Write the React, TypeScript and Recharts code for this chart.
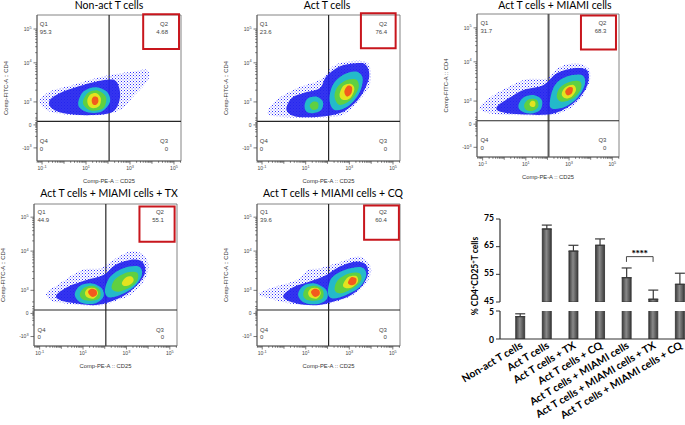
import React from 'react';
import {
  ScatterChart,
  Scatter,
  XAxis,
  YAxis,
  ReferenceLine,
  ReferenceArea,
  ReferenceDot,
  BarChart,
  Bar,
  ErrorBar,
} from 'recharts';

// ---------- flow plots ----------
// x = log10(CD25), y = display units of the CD4 axis (-1 = -10^3, 0 = 0, 1 = 10^3, 2.7 = 10^4, 4.17 = 10^5)
// each array is one density contour

const nonActHalo = [[-1.12, 1.01], [-0.64, 1.45], [0.27, 1.7], [1.18, 1.96], [2.09, 2.17], [3.15, 2.32], [3.76, 2.39], [3.83, 1.96], [3.15, 1.23], [2.55, 0.65], [1.64, 0.43], [0.42, 0.43], [-0.64, 0.58]];
const nonActDense = [[-0.64, 1.09], [-0.03, 1.45], [0.88, 1.74], [1.94, 1.96], [2.39, 1.88], [2.55, 1.23], [2.24, 0.58], [1.33, 0.43], [0.12, 0.48], [-0.56, 0.72]];
const nonActCyan = [[0.65, 1.01], [0.88, 1.45], [1.41, 1.64], [1.94, 1.45], [2.09, 1.01], [1.71, 0.58], [1.11, 0.54], [0.73, 0.72]];
const nonActGreen = [[0.88, 1.09], [1.11, 1.41], [1.56, 1.49], [1.91, 1.2], [1.79, 0.72], [1.26, 0.62], [0.91, 0.83]];
const nonActYellow = [[1.06, 1.09], [1.21, 1.33], [1.48, 1.38], [1.67, 1.16], [1.61, 0.83], [1.33, 0.72], [1.12, 0.83]];
const nonActRed = [[1.26, 1.09], [1.36, 1.23], [1.52, 1.2], [1.56, 1.01], [1.44, 0.87], [1.3, 0.91]];

const actHalo = [[-0.71, 0.65], [-0.33, 1.09], [0.58, 1.59], [1.64, 1.96], [2.24, 2.54], [2.85, 2.75], [3.76, 2.75], [3.98, 2.32], [3.91, 1.67], [3.45, 1.09], [2.7, 0.43], [1.64, 0.33], [0.12, 0.33], [-0.64, 0.43]];
const actDense = [[0.12, 0.65], [0.35, 1.16], [0.88, 1.38], [1.64, 1.59], [1.94, 2.1], [2.55, 2.54], [3.3, 2.68], [3.76, 2.61], [3.91, 2.1], [3.61, 1.38], [3.15, 0.87], [2.55, 0.51], [1.64, 0.36], [0.58, 0.36]];
const actLeftCyan = [[0.95, 0.87], [1.11, 1.16], [1.48, 1.23], [1.79, 1.01], [1.71, 0.65], [1.33, 0.51], [1.03, 0.58]];
const actLeftGreen = [[1.18, 0.83], [1.33, 1.01], [1.56, 0.97], [1.56, 0.72], [1.33, 0.65]];
const actRightCyan = [[2.09, 1.09], [2.24, 1.74], [2.7, 2.17], [3.3, 2.32], [3.61, 2.03], [3.45, 1.38], [2.92, 0.8], [2.32, 0.65]];
const actRightGreen = [[2.32, 1.23], [2.47, 1.67], [2.92, 1.96], [3.33, 1.96], [3.42, 1.59], [3.08, 1.09], [2.55, 0.87]];
const actRightYellow = [[2.55, 1.3], [2.73, 1.7], [3.08, 1.78], [3.23, 1.55], [3.03, 1.16], [2.7, 1.09]];
const actRightRed = [[2.77, 1.45], [2.92, 1.7], [3.12, 1.64], [3.08, 1.35], [2.88, 1.23]];

const miamiHalo = [[-1.14, 0.72], [-0.49, 1.26], [0.89, 1.91], [1.97, 1.99], [2.58, 2.49], [3.35, 2.64], [3.89, 2.42], [3.97, 1.91], [3.66, 1.26], [3.05, 0.68], [2.12, 0.39], [0.58, 0.39], [-0.65, 0.46]];
const miamiDense = [[-0.34, 0.75], [0.2, 1.12], [0.89, 1.48], [1.82, 1.7], [2.43, 2.2], [3.2, 2.42], [3.82, 2.35], [3.89, 1.84], [3.58, 1.26], [2.97, 0.75], [2.12, 0.43], [0.74, 0.43], [-0.18, 0.54]];
const miamiLeftCyan = [[0.66, 0.83], [0.89, 1.16], [1.35, 1.26], [1.74, 1.04], [1.66, 0.61], [1.2, 0.46], [0.77, 0.58]];
const miamiLeftGreen = [[0.92, 0.83], [1.12, 1.07], [1.48, 1.07], [1.58, 0.78], [1.32, 0.58], [1.02, 0.61]];
const miamiLeftYellow = [[1.17, 0.87], [1.28, 1.01], [1.43, 0.96], [1.42, 0.78], [1.25, 0.75]];
const miamiRightCyan = [[2.12, 1.04], [2.35, 1.7], [2.89, 2.06], [3.58, 2.13], [3.74, 1.77], [3.43, 1.19], [2.82, 0.75], [2.2, 0.68]];
const miamiRightGreen = [[2.43, 1.19], [2.58, 1.59], [3.05, 1.84], [3.51, 1.84], [3.54, 1.51], [3.2, 1.12], [2.66, 0.97]];
const miamiRightYellow = [[2.66, 1.3], [2.82, 1.59], [3.2, 1.7], [3.32, 1.48], [3.12, 1.19], [2.82, 1.12]];
const miamiRightRed = [[2.82, 1.41], [2.97, 1.59], [3.17, 1.57], [3.12, 1.33], [2.92, 1.25]];

const txHalo = [[-0.69, 0.9], [-0.07, 1.3], [0.93, 1.88], [1.78, 1.96], [2.4, 2.32], [3.17, 2.68], [3.79, 2.54], [4.02, 2.03], [3.79, 1.38], [3.17, 0.8], [2.4, 0.51], [1.63, 0.32], [0.39, 0.41], [-0.46, 0.55]];
const txDense = [[-0.23, 0.8], [0.31, 1.16], [1.16, 1.45], [1.94, 1.67], [2.48, 2.1], [3.17, 2.32], [3.71, 2.25], [3.87, 1.81], [3.56, 1.3], [2.94, 0.8], [2.25, 0.51], [1.47, 0.36], [0.47, 0.46], [-0.07, 0.58]];
const txLeftCyan = [[0.62, 0.8], [0.85, 1.19], [1.4, 1.3], [1.86, 1.09], [1.94, 0.72], [1.55, 0.43], [0.93, 0.46]];
const txLeftGreen = [[0.85, 0.84], [1.09, 1.13], [1.5, 1.19], [1.78, 0.99], [1.75, 0.65], [1.32, 0.55], [0.98, 0.61]];
const txLeftYellow = [[1.09, 0.9], [1.24, 1.09], [1.55, 1.09], [1.69, 0.87], [1.5, 0.65], [1.19, 0.7]];
const txLeftRed = [[1.23, 0.93], [1.38, 1.07], [1.6, 1.01], [1.63, 0.81], [1.41, 0.72]];
const txRightCyan = [[2.01, 1.01], [2.25, 1.59], [2.86, 1.96], [3.56, 2.03], [3.71, 1.67], [3.33, 1.13], [2.71, 0.8], [2.17, 0.7]];
const txRightGreen = [[2.32, 1.09], [2.48, 1.48], [3.02, 1.77], [3.48, 1.77], [3.51, 1.45], [3.17, 1.13], [2.63, 0.94]];
const txRightYellow = [[2.79, 1.33], [2.99, 1.57], [3.25, 1.59], [3.33, 1.42], [3.14, 1.23], [2.89, 1.19]];

const cqHalo = [[-1.18, 0.84], [-0.5, 1.13], [0.57, 1.45], [1.11, 1.88], [1.64, 1.96], [2.4, 2.17], [3.32, 2.46], [3.78, 2.32], [4.01, 1.88], [3.78, 1.3], [3.17, 0.8], [2.4, 0.51], [1.64, 0.36], [0.42, 0.41], [-0.65, 0.65]];
const cqDense = [[-0.04, 0.72], [0.42, 1.13], [1.18, 1.38], [1.95, 1.67], [2.56, 2.03], [3.32, 2.25], [3.78, 2.1], [3.85, 1.67], [3.55, 1.16], [2.94, 0.72], [2.25, 0.51], [1.49, 0.36], [0.57, 0.43]];
const cqLeftCyan = [[0.65, 0.8], [0.88, 1.19], [1.41, 1.3], [1.92, 1.04], [1.98, 0.65], [1.56, 0.41], [0.95, 0.46]];
const cqLeftGreen = [[0.88, 0.84], [1.06, 1.13], [1.49, 1.19], [1.79, 0.99], [1.76, 0.65], [1.34, 0.55], [1.0, 0.61]];
const cqLeftYellow = [[1.11, 0.9], [1.26, 1.09], [1.56, 1.09], [1.69, 0.87], [1.52, 0.65], [1.21, 0.7]];
const cqLeftRed = [[1.24, 0.93], [1.4, 1.07], [1.61, 1.01], [1.63, 0.81], [1.4, 0.72]];
const cqRightCyan = [[2.02, 0.87], [2.18, 1.52], [2.79, 1.88], [3.55, 2.0], [3.78, 1.67], [3.47, 1.13], [2.86, 0.8], [2.25, 0.65]];
const cqRightGreen = [[2.33, 1.01], [2.48, 1.45], [3.02, 1.74], [3.47, 1.74], [3.55, 1.45], [3.24, 1.13], [2.63, 0.87]];
const cqRightYellow = [[2.71, 1.23], [2.94, 1.57], [3.32, 1.62], [3.4, 1.38], [3.17, 1.16], [2.86, 1.09]];
const cqRightRed = [[2.94, 1.33], [3.09, 1.57], [3.32, 1.51], [3.29, 1.3], [3.09, 1.22]];

const panelTitles = ['Non-act T cells', 'Act T cells', 'Act T cells + MIAMI cells', 'Act T cells + MIAMI cells + TX', 'Act T cells + MIAMI cells + CQ'];
const q1Pct = ['95.3', '23.6', '31.7', '44.9', '39.6'];
const q2Pct = ['4.68', '76.4', '68.3', '55.1', '60.4'];
const q3Pct = ['0', '0', '0', '0', '0'];
const q4Pct = ['0', '0', '0', '0', '0'];

// quadrant gate (CD25, CD4)
const gateX = 2.05;
const gateY = 0.15;

// axis ticks
const xMajor = [-1, 1, 3, 5];
const xMid = [0, 2, 4];
const yTickPos = [-1, 0, 1, 2.7, 4.17];
const yTickBase = ['-10', '0', '10', '10', '10'];
const yTickExp = ['3', '', '3', '4', '5'];

const xMinor: number[] = [];
[-2, -1, 0, 1, 2, 3, 4, 5].forEach((d) => {
  [2, 3, 4, 5, 6, 7, 8, 9].forEach((k) => xMinor.push(d + Math.log10(k)));
});
const yMinor: number[] = [-0.5, -0.3, -0.2, -0.1, -0.05, 0.05, 0.1, 0.2, 0.3, 0.5];
[2, 3, 4, 5, 6, 7, 8, 9].forEach((k) => {
  yMinor.push(1 + 1.7 * Math.log10(k));
  yMinor.push(2.7 + 1.47 * Math.log10(k));
});

// ---------- bar chart ----------
const groups = [
  'Non-act T cells',
  'Act T cells',
  'Act T cells + TX',
  'Act T cells + CQ',
  'Act T cells + MIAMI cells',
  'Act T cells + MIAMI cells + TX',
  'Act T cells + MIAMI cells + CQ',
];
const cd25Mean = [4.0, 71.4, 63.4, 65.5, 53.8, 46.0, 51.4];
const cd25Err = [0.5, 1.4, 2.1, 2.3, 3.5, 3.3, 4.0];
const upperTicks = [45, 55, 65, 75];
const lowerTicks = [0, 5];
const sigLevel = 61.4;

const topRows = groups.map((g, i) => ({
  g,
  v: cd25Mean[i] > upperTicks[0] ? cd25Mean[i] : null,
  e: cd25Mean[i] > upperTicks[0] ? [0, cd25Err[i]] : undefined,
}));
const bottomRows = groups.map((g, i) => ({
  g,
  v: cd25Mean[i],
  e: cd25Mean[i] <= lowerTicks[1] ? [0, cd25Err[i]] : undefined,
}));

// ---------- styling ----------
const levelStyle: Record<string, { fill: string; opacity: number; soft: boolean }> = {
  halo: { fill: 'url(#sparseDots)', opacity: 1, soft: false },
  dense: { fill: '#2222ee', opacity: 0.92, soft: true },
  cyan: { fill: '#22c2c8', opacity: 0.95, soft: true },
  green: { fill: '#62d13a', opacity: 0.95, soft: true },
  yellow: { fill: '#eae41f', opacity: 0.95, soft: true },
  red: { fill: '#f2521d', opacity: 0.95, soft: true },
};

const toPts = (a: number[][]) => a.map(([x, y]) => ({ x, y }));

const panelLayers = [
  [[nonActHalo, 'halo'], [nonActDense, 'dense'], [nonActCyan, 'cyan'], [nonActGreen, 'green'], [nonActYellow, 'yellow'], [nonActRed, 'red']],
  [[actHalo, 'halo'], [actDense, 'dense'], [actLeftCyan, 'cyan'], [actRightCyan, 'cyan'], [actLeftGreen, 'green'], [actRightGreen, 'green'], [actRightYellow, 'yellow'], [actRightRed, 'red']],
  [[miamiHalo, 'halo'], [miamiDense, 'dense'], [miamiLeftCyan, 'cyan'], [miamiRightCyan, 'cyan'], [miamiLeftGreen, 'green'], [miamiRightGreen, 'green'], [miamiLeftYellow, 'yellow'], [miamiRightYellow, 'yellow'], [miamiRightRed, 'red']],
  [[txHalo, 'halo'], [txDense, 'dense'], [txLeftCyan, 'cyan'], [txRightCyan, 'cyan'], [txLeftGreen, 'green'], [txRightGreen, 'green'], [txLeftYellow, 'yellow'], [txRightYellow, 'yellow'], [txLeftRed, 'red']],
  [[cqHalo, 'halo'], [cqDense, 'dense'], [cqLeftCyan, 'cyan'], [cqRightCyan, 'cyan'], [cqLeftGreen, 'green'], [cqRightGreen, 'green'], [cqLeftYellow, 'yellow'], [cqRightYellow, 'yellow'], [cqLeftRed, 'red'], [cqRightRed, 'red']],
];

// plot boxes in page pixels, axis domains and the red Q2 highlight (data units)
const panelLayout = [
  { left: 37, top: 15, width: 144, height: 146, xDom: [-1.23, 5.32], yDom: [-1.57, 4.78], titleX: 109, titleY: 5, box: [3.6, 5.23, 3.3, 4.81] },
  { left: 257, top: 15, width: 143, height: 146, xDom: [-1.23, 5.32], yDom: [-1.57, 4.78], titleX: 327, titleY: 5, box: [3.53, 5.12, 3.33, 4.86] },
  { left: 477, top: 14, width: 142, height: 143, xDom: [-1.26, 5.31], yDom: [-1.42, 4.77], titleX: 555, titleY: 5, box: [3.55, 5.17, 3.23, 4.7], gate: '#5a5a5a', gateW: 2 },
  { left: 34, top: 204, width: 143, height: 142, xDom: [-1.26, 5.33], yDom: [-1.41, 4.74], titleX: 109, titleY: 193, box: [3.6, 5.22, 3.11, 4.63] },
  { left: 257, top: 204, width: 143, height: 142, xDom: [-1.24, 5.33], yDom: [-1.41, 4.74], titleX: 333, titleY: 193, box: [3.68, 5.28, 3.19, 4.68] },
];

const smallFont = '"Liberation Sans", Arial, sans-serif';

const closedPath = (pts: { x: number; y: number }[]) => {
  const n = pts.length;
  if (!n) return '';
  let d = `M${pts[0].x},${pts[0].y}`;
  for (let i = 0; i < n; i++) {
    const p0 = pts[(i - 1 + n) % n];
    const p1 = pts[i];
    const p2 = pts[(i + 1) % n];
    const p3 = pts[(i + 2) % n];
    d += `C${p1.x + (p2.x - p0.x) / 6},${p1.y + (p2.y - p0.y) / 6} ${p2.x - (p3.x - p1.x) / 6},${p2.y - (p3.y - p1.y) / 6} ${p2.x},${p2.y}`;
  }
  return d + 'Z';
};

const contour = (level: string) => (props: any) => (
  <path
    d={closedPath(props.points)}
    fill={levelStyle[level].fill}
    fillOpacity={levelStyle[level].opacity}
    stroke="none"
    filter={levelStyle[level].soft ? 'url(#soften)' : undefined}
  />
);

const noDot = () => <g />;

const FlowXTick = (props: any) => {
  const { x, y, payload } = props;
  const v = payload.value;
  const major = xMajor.includes(v);
  const len = major ? 3.5 : xMid.includes(v) ? 2.8 : 1.8;
  return (
    <g>
      <line x1={x} x2={x} y1={y} y2={y + len} stroke="#444" strokeWidth={0.7} />
      {major && (
        <text x={x} y={y + 9} textAnchor="middle" fontSize={5} fill="#444" fontFamily={smallFont}>
          10
          <tspan dy={-2.2} fontSize={3.8}>
            {String(v)}
          </tspan>
        </text>
      )}
    </g>
  );
};

const FlowYTick = (props: any) => {
  const { x, y, payload } = props;
  const i = yTickPos.indexOf(payload.value);
  if (i < 0) {
    return <line x1={x} x2={x - 1.8} y1={y} y2={y} stroke="#444" strokeWidth={0.7} />;
  }
  return (
    <g>
      <line x1={x} x2={x - 3.5} y1={y} y2={y} stroke="#444" strokeWidth={0.7} />
      <text x={x - 5.5} y={y} dy="0.35em" textAnchor="end" fontSize={5} fill="#444" fontFamily={smallFont}>
        {yTickBase[i]}
        {yTickExp[i] && (
          <tspan dy={-2.2} fontSize={3.8}>
            {yTickExp[i]}
          </tspan>
        )}
      </text>
    </g>
  );
};

const quadText = (text: string, anchor: string) => (props: any) => {
  const { viewBox } = props;
  return (
    <text
      x={viewBox.x}
      y={viewBox.y}
      dy="0.35em"
      textAnchor={anchor}
      fontSize={6}
      fill="#444"
      fontFamily={smallFont}
    >
      {text}
    </text>
  );
};

const ML = 36;
const MT = 6;
const MR = 6;
const XH = 26;

function FlowPanel({ idx }: { idx: number }) {
  const lay: any = panelLayout[idx];
  const w = lay.width + ML + MR;
  const h = lay.height + MT + XH;
  const qLeft = -1.1;
  const qRight = 4.73;
  return (
    <>
      <div style={{ position: 'absolute', left: lay.left - ML, top: lay.top - MT }}>
        <ScatterChart width={w} height={h} margin={{ top: MT, right: MR, bottom: 0, left: 0 }}>
          <XAxis
            type="number"
            dataKey="x"
            domain={lay.xDom}
            allowDataOverflow
            ticks={[...xMajor, ...xMid, ...xMinor.filter((t) => t > lay.xDom[0] && t < lay.xDom[1])]}
            interval={0}
            tick={FlowXTick}
            tickSize={0}
            tickMargin={0}
            tickLine={false}
            axisLine={{ stroke: '#555', strokeWidth: 0.8 }}
            height={XH}
            label={{
              content: (p: any) => (
                <text
                  x={p.viewBox.x + p.viewBox.width / 2}
                  y={p.viewBox.y + 20}
                  dy="0.35em"
                  textAnchor="middle"
                  fontSize={5.8}
                  fill="#333"
                  fontFamily={smallFont}
                >
                  Comp-PE-A :: CD25
                </text>
              ),
            }}
          />
          <YAxis
            type="number"
            dataKey="y"
            domain={lay.yDom}
            allowDataOverflow
            ticks={[...yTickPos, ...yMinor]}
            interval={0}
            tick={FlowYTick}
            tickSize={0}
            tickMargin={0}
            tickLine={false}
            axisLine={{ stroke: '#555', strokeWidth: 0.8 }}
            width={ML}
            label={{
              content: (p: any) => {
                const cx = p.viewBox.x + 5;
                const cy = p.viewBox.y + p.viewBox.height / 2;
                return (
                  <text
                    transform={`translate(${cx},${cy}) rotate(-90)`}
                    dy="0.35em"
                    textAnchor="middle"
                    fontSize={5.8}
                    fill="#333"
                    fontFamily={smallFont}
                  >
                    Comp-FITC-A :: CD4
                  </text>
                );
              },
            }}
          />
          {panelLayers[idx].map(([pts, level]: any, k: number) => (
            <Scatter
              key={k}
              data={toPts(pts)}
              line={contour(level)}
              lineType="joint"
              shape={noDot}
              isAnimationActive={false}
            />
          ))}
          <ReferenceArea
            x1={lay.xDom[0]}
            x2={lay.xDom[1]}
            y1={lay.yDom[0]}
            y2={lay.yDom[1]}
            fill="none"
            stroke="#666"
            strokeWidth={0.8}
            ifOverflow="visible"
          />
          <ReferenceLine x={gateX} stroke={lay.gate || '#262626'} strokeWidth={lay.gateW || 1.2} />
          <ReferenceLine y={gateY} stroke="#262626" strokeWidth={1.2} />
          <ReferenceArea
            x1={lay.box[0]}
            x2={lay.box[1]}
            y1={lay.box[2]}
            y2={lay.box[3]}
            fill="none"
            stroke="#c8161d"
            strokeWidth={2}
            ifOverflow="visible"
          />
          <ReferenceDot x={qLeft} y={4.39} r={0} label={quadText('Q1', 'start')} />
          <ReferenceDot x={qLeft} y={4.04} r={0} label={quadText(q1Pct[idx], 'start')} />
          <ReferenceDot x={qRight} y={4.39} r={0} label={quadText('Q2', 'end')} />
          <ReferenceDot x={qRight} y={4.04} r={0} label={quadText(q2Pct[idx], 'end')} />
          <ReferenceDot x={qLeft} y={-0.7} r={0} label={quadText('Q4', 'start')} />
          <ReferenceDot x={qLeft} y={-1.03} r={0} label={quadText(q4Pct[idx], 'start')} />
          <ReferenceDot x={qRight} y={-0.7} r={0} label={quadText('Q3', 'end')} />
          <ReferenceDot x={qRight} y={-1.03} r={0} label={quadText(q3Pct[idx], 'end')} />
        </ScatterChart>
      </div>
      <div
        style={{
          position: 'absolute',
          left: lay.titleX,
          top: lay.titleY - 7,
          transform: 'translateX(-50%)',
          whiteSpace: 'nowrap',
          fontFamily: 'Lato, sans-serif',
          fontSize: 10.5,
          lineHeight: '14px',
          color: '#000',
        }}
      >
        {panelTitles[idx]}
      </div>
    </>
  );
}

const LABEL_ANGLE = -31;

const GroupTick = (props: any) => {
  const { x, y, payload } = props;
  return (
    <g transform={`translate(${x - 0.5},${y}) rotate(${LABEL_ANGLE})`}>
      <text
        x={0}
        y={0}
        dy="0.71em"
        textAnchor="end"
        fontSize={10.4}
        fontWeight={700}
        fill="#000"
        fontFamily="Lato, sans-serif"
      >
        {payload.value}
      </text>
    </g>
  );
};

// value labels on the broken y axis, nudged apart where the two segments meet
const barYTick = (shift: number) => (props: any) => {
  const { x, y, payload } = props;
  return (
    <text
      x={x}
      y={y + shift}
      dy="0.35em"
      textAnchor="end"
      fontSize={8.6}
      fontWeight={700}
      fill="#000"
      fontFamily="Lato, sans-serif"
    >
      {payload.value}
    </text>
  );
};

export default function App() {
  return (
    <div style={{ position: 'relative', width: 685, height: 425, background: '#fff', overflow: 'hidden' }}>
      <style>{'body{margin:0;overflow:hidden}'}</style>
      <svg width={0} height={0} style={{ position: 'absolute' }}>
        <defs>
          <linearGradient id="barShade" x1="0" y1="0" x2="1" y2="0">
            <stop offset="0%" stopColor="#3a3a3a" />
            <stop offset="45%" stopColor="#8a8a8a" />
            <stop offset="100%" stopColor="#3a3a3a" />
          </linearGradient>
          <pattern id="sparseDots" width="3" height="3" patternUnits="userSpaceOnUse">
            <rect x="0" y="0" width="1" height="1" fill="#3030ff" />
            <rect x="1.6" y="1.5" width="0.9" height="0.9" fill="#4a4aff" />
          </pattern>
          <filter id="soften" x="-20%" y="-20%" width="140%" height="140%">
            <feGaussianBlur stdDeviation="0.7" />
          </filter>
        </defs>
      </svg>

      {panelLayout.map((_, i) => (
        <FlowPanel key={i} idx={i} />
      ))}

      {/* upper segment of the broken axis */}
      <div style={{ position: 'absolute', left: 440, top: 210, width: 245, height: 100, overflow: 'hidden' }}>
        <BarChart width={253} height={98} data={topRows} margin={{ top: 9, right: 0, bottom: 6, left: 0 }}>
          <XAxis dataKey="g" hide padding={{ left: 6.7, right: 0 }} />
          <YAxis
            width={60}
            domain={[upperTicks[0], upperTicks[upperTicks.length - 1]]}
            ticks={upperTicks}
            allowDataOverflow
            interval={0}
            tick={barYTick(-1.2)}
            tickSize={4}
            tickMargin={2}
            axisLine={{ stroke: '#333', strokeWidth: 1.2 }}
            tickLine={{ stroke: '#333', strokeWidth: 1 }}
          />
          <Bar dataKey="v" barSize={9} fill="url(#barShade)" stroke="#2e2e2e" strokeWidth={0.8} isAnimationActive={false}>
            <ErrorBar dataKey="e" width={5} stroke="#3a3a3a" strokeWidth={1.2} direction="y" />
          </Bar>
          <ReferenceLine
            segment={[{ x: groups[4], y: sigLevel }, { x: groups[5], y: sigLevel }]}
            stroke="#333"
            strokeWidth={0.9}
            label={{ value: '****', position: 'top', offset: 1, fontSize: 8, fontWeight: 700, fill: '#000' }}
          />
          <ReferenceLine segment={[{ x: groups[4], y: sigLevel }, { x: groups[4], y: sigLevel - 1.9 }]} stroke="#333" strokeWidth={0.9} />
          <ReferenceLine segment={[{ x: groups[5], y: sigLevel }, { x: groups[5], y: sigLevel - 1.9 }]} stroke="#333" strokeWidth={0.9} />
        </BarChart>
      </div>

      {/* lower segment of the broken axis */}
      <div style={{ position: 'absolute', left: 440, top: 300, width: 245, height: 125, overflow: 'hidden' }}>
        <BarChart width={253} height={125} data={bottomRows} margin={{ top: 11, right: 0, bottom: 0, left: 0 }}>
          <XAxis
            dataKey="g"
            padding={{ left: 6.7, right: 0 }}
            height={86}
            interval={0}
            tick={GroupTick}
            tickSize={0}
            tickMargin={2}
            tickLine={false}
            axisLine={{ stroke: '#333', strokeWidth: 1.2 }}
          />
          <YAxis
            width={60}
            domain={[lowerTicks[0], lowerTicks[1]]}
            ticks={lowerTicks}
            allowDataOverflow
            interval={0}
            tick={barYTick(1.2)}
            tickSize={4}
            tickMargin={2}
            axisLine={{ stroke: '#333', strokeWidth: 1.2 }}
            tickLine={{ stroke: '#333', strokeWidth: 1 }}
          />
          <Bar dataKey="v" barSize={9} fill="url(#barShade)" stroke="#2e2e2e" strokeWidth={0.8} isAnimationActive={false}>
            <ErrorBar dataKey="e" width={5} stroke="#3a3a3a" strokeWidth={1.2} direction="y" />
          </Bar>
        </BarChart>
      </div>

      <div
        style={{
          position: 'absolute',
          left: 474,
          top: 276,
          transform: 'translate(-50%, -50%) rotate(-90deg)',
          whiteSpace: 'nowrap',
          fontFamily: 'Lato, sans-serif',
          fontWeight: 700,
          fontSize: 8.5,
          lineHeight: '10px',
          color: '#000',
        }}
      >
        % CD4<sup style={{ fontSize: 6 }}>+</sup>CD25<sup style={{ fontSize: 6 }}>+</sup>T cells
      </div>
    </div>
  );
}
